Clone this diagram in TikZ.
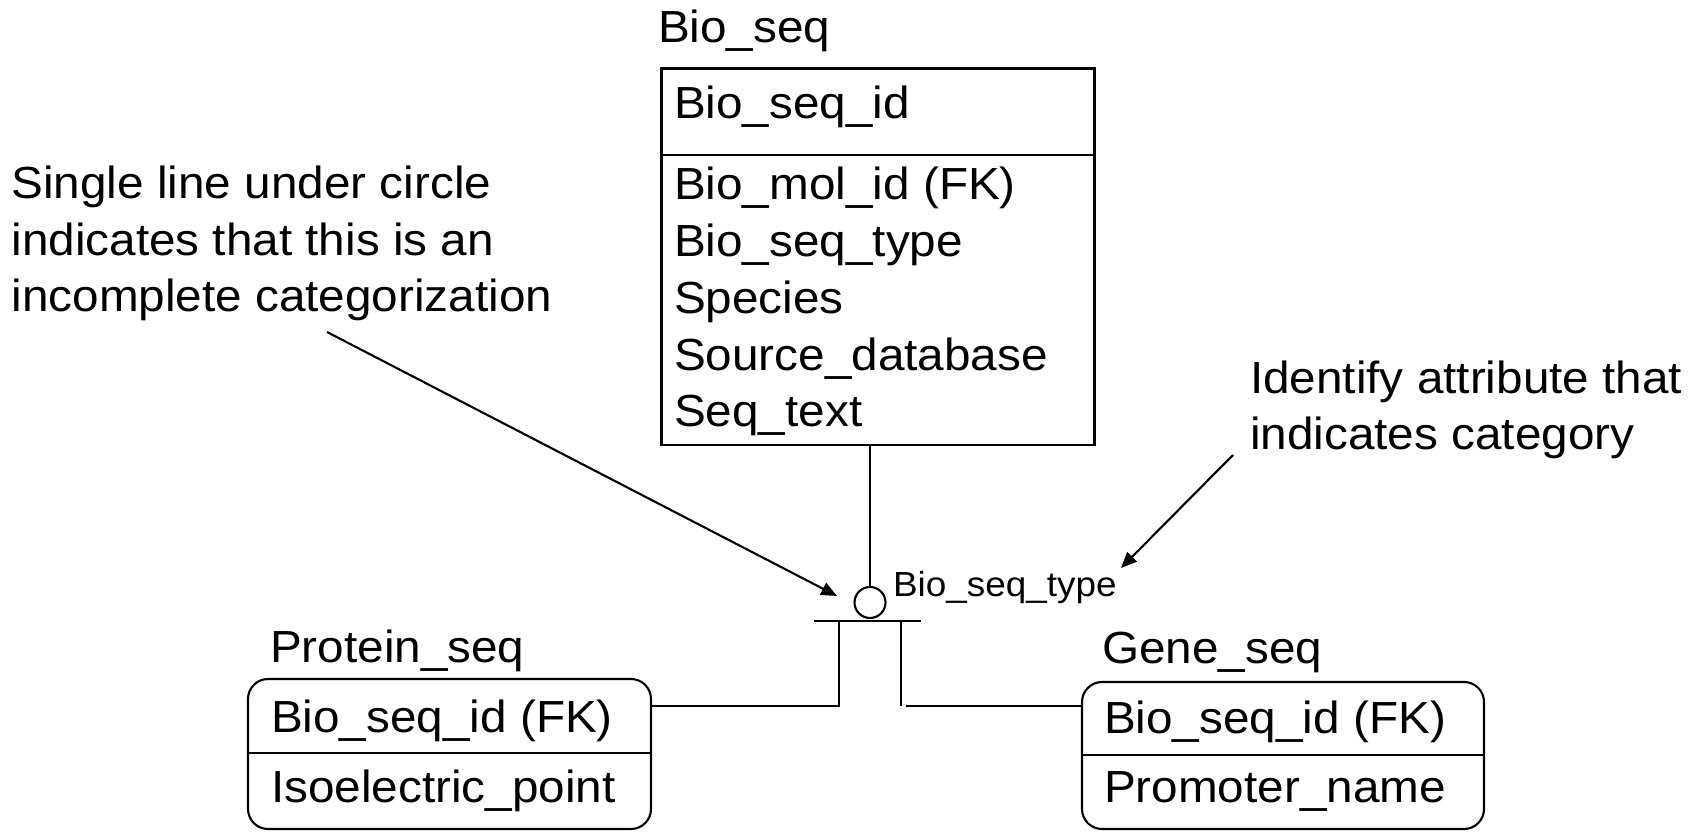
\documentclass[tikz,border=0pt]{standalone}
\usepackage{fontspec}
\setmainfont{Liberation Sans}[FakeStretch=1.06]
\usetikzlibrary{arrows.meta}
\begin{document}
\begin{tikzpicture}[
    line width=0.6pt,
    every node/.style={font=\fontsize{12.8}{16.2}\selectfont},
    entity/.style={draw, line width=0.85pt, minimum width=4.33cm, minimum height=3.76cm, inner sep=0, outer sep=0},
    subentity/.style={draw, rounded corners=0.2cm, minimum width=4.03cm, minimum height=1.5cm, inner sep=0, outer sep=0},
    attr/.style={anchor=base west, inner sep=0, align=left},
    pointer/.style={-{Triangle[length=4.5pt, width=3.8pt]}}
]
    \useasboundingbox (0,0) rectangle (17.03,8.31);

    % Supertype
    \node[entity] (bioseq) at (8.775,5.74) {};
    \draw[line width=0.5pt] (bioseq.west |- 0,6.76) -- (bioseq.east |- 0,6.76);
    \node[attr] (bioseqname) at (6.57,7.88) {Bio\_seq};
    \node[attr] (bioseqkey) at (6.73,7.12) {Bio\_seq\_id};
    \node[attr] (bioseqattr) at (6.73,4.04) {Bio\_mol\_id (FK)\\Bio\_seq\_type\\Species\\Source\_database\\Seq\_text};

    % Category symbol
    \node[draw, circle, minimum size=0.31cm, inner sep=0] (subcat) at (8.70,2.285) {};
    \draw (subcat.north) -- (subcat.north |- bioseq.south);
    \node[attr, font=\fontsize{9.9}{12}\selectfont] (discr) at (8.92,2.35) {Bio\_seq\_type};
    \coordinate (barL) at (8.14,2.10);
    \coordinate (barR) at (9.21,2.10);
    \draw (barL) -- (barR);
    \coordinate (legL) at (8.39,2.10);
    \coordinate (legR) at (9.01,2.10);

    % Subtypes
    \node[subentity] (proteinseq) at (4.495,0.77) {};
    \draw (proteinseq.west |- 0,0.78) -- (proteinseq.east |- 0,0.78);
    \node[attr] (proteinname) at (2.69,1.69) {Protein\_seq};
    \node[attr] (proteinkey) at (2.70,0.99) {Bio\_seq\_id (FK)};
    \node[attr] (proteinattr) at (2.70,0.29) {Isoelectric\_point};

    \node[subentity, minimum width=4.02cm, minimum height=1.47cm] (geneseq) at (12.83,0.755) {};
    \draw (geneseq.west |- 0,0.76) -- (geneseq.east |- 0,0.76);
    \node[attr] (genename) at (11.01,1.68) {Gene\_seq};
    \node[attr] (genekey) at (11.03,0.98) {Bio\_seq\_id (FK)};
    \node[attr] (geneattr) at (11.03,0.29) {Promoter\_name};

    \draw (legL) |- (proteinseq.east |- 0,1.25);
    \draw (legR) -- (legR |- 0,1.25);
    \draw (9.06,1.25) -- (geneseq.west |- 0,1.25);

    % Notes
    \node[attr] (notecat) at (0.105,5.19) {Single line under circle\\indicates that this is an\\incomplete categorization};
    \node[attr] (notedisc) at (12.49,3.81) {Identify attribute that\\indicates category};
    \coordinate (fromcat) at (3.27,4.99);
    \coordinate (tipcat) at (8.37,2.35);
    \coordinate (fromdisc) at (12.33,3.76);
    \coordinate (tipdisc) at (11.21,2.63);
    \draw[pointer] (fromcat) -- (tipcat);
    \draw[pointer] (fromdisc) -- (tipdisc);
\end{tikzpicture}
\end{document}
